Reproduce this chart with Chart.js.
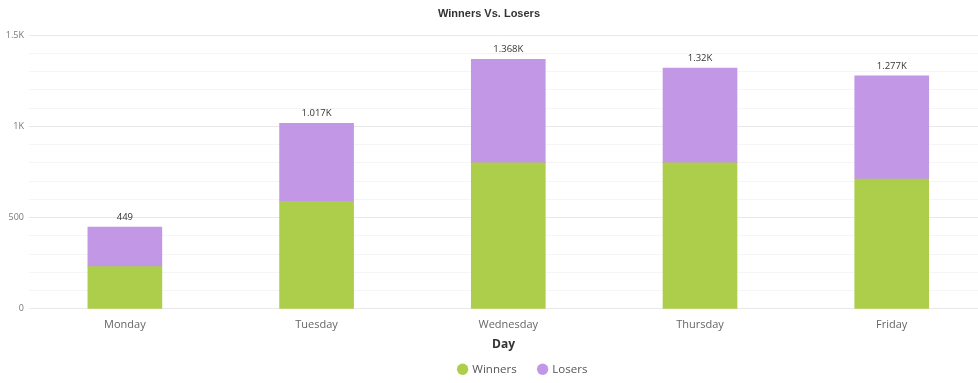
<!DOCTYPE html>
<html>
<head>
<meta charset="utf-8">
<script src="https://cdn.jsdelivr.net/npm/chart.js@4/dist/chart.umd.min.js"></script>
<style>
html,body{margin:0;padding:0;background:#fff;overflow:hidden;}
#wrap{width:978px;height:383px;position:relative;}
</style>
</head>
<body>
<div id="wrap"><canvas id="c"></canvas></div>
<script>
const days = ["Monday", "Tuesday", "Wednesday", "Thursday", "Friday"];
const winners = [232, 590, 800, 800, 712];
const losers = [217, 427, 568, 520, 565];
const yTickLabels = {0: "0", 500: "500", 1000: "1K", 1500: "1.5K"};

function fmtTotal(v) {
  if (v >= 1000) return (Math.round(v) / 1000) + "K";
  return String(Math.round(v));
}

const totalsPlugin = {
  id: "totals",
  afterDatasetsDraw(chart) {
    const ctx = chart.ctx;
    const meta = chart.getDatasetMeta(1);
    ctx.save();
    ctx.font = "9.5px 'Open Sans'";
    ctx.fillStyle = "#333";
    ctx.textAlign = "center";
    ctx.textBaseline = "bottom";
    meta.data.forEach((bar, i) => {
      const total = winners[i] + losers[i];
      ctx.fillText(fmtTotal(total), bar.x, bar.y - 5);
    });
    ctx.restore();
  }
};

const legendShift = {
  id: "legendShift",
  afterLayout(chart) {
    const lg = chart.legend;
    if (!lg) return;
    const dx = 34, dy = -12;
    lg.left += dx; lg.right += dx;
    lg.top += dy; lg.bottom += dy;
    if (lg.legendHitBoxes) lg.legendHitBoxes.forEach(b => { b.left += dx; b.top += dy; });
  }
};

new Chart(document.getElementById("c"), {
  type: "bar",
  data: {
    datasets: [
      { label: "Winners", data: winners.map((v, i) => ({x: i, y: v})), backgroundColor: "#ADCE4B", borderWidth: 0, barThickness: 74 },
      { label: "Losers", data: losers.map((v, i) => ({x: i, y: v})), backgroundColor: "#C297E6", borderWidth: 0, barThickness: 74 }
    ]
  },
  options: {
    responsive: true,
    maintainAspectRatio: false,
    animation: false,
    layout: { padding: { left: 0, right: 0, top: 0, bottom: -14 } },
    plugins: {
      tooltip: { enabled: false },
      title: {
        display: true,
        text: "Winners Vs. Losers",
        color: "#333",
        font: { family: "'Liberation Sans'", size: 11, weight: "bold" },
        padding: { top: 7, bottom: 15 }
      },
      legend: {
        position: "bottom",
        labels: {
          usePointStyle: true,
          pointStyle: "circle",
          boxWidth: 8,
          boxHeight: 8,
          padding: 22,
          color: "#555",
          font: { family: "'Open Sans'", size: 11.5 }
        }
      }
    },
    scales: {
      x: {
        type: "linear",
        stacked: true,
        offset: false,
        min: -0.5,
        max: 4.45,
        border: { display: false },
        grid: { display: false },
        ticks: {
          stepSize: 1,
          includeBounds: false,
          autoSkip: false,
          maxRotation: 0,
          color: "#666",
          font: { family: "'Open Sans'", size: 11 },
          padding: 1,
          callback: (v) => (Number.isInteger(v) && days[v] !== undefined) ? days[v] : ""
        },
        title: {
          display: true,
          text: "Day",
          color: "#333",
          font: { family: "'Open Sans'", size: 12, weight: "bold" },
          padding: { top: 5, bottom: 2 }
        }
      },
      y: {
        stacked: true,
        min: 0,
        max: 1500,
        border: { display: false },
        afterFit: (scale) => { scale.width = 29; },
        grid: {
          drawTicks: false,
          color: (ctx) => (ctx.tick && ctx.tick.value % 500 === 0) ? "#e8e8e8" : "#f5f5f5",
          lineWidth: 1
        },
        ticks: {
          stepSize: 100,
          autoSkip: false,
          padding: 5,
          color: "#777",
          font: { family: "'Open Sans'", size: 9 },
          callback: (v) => yTickLabels[v] !== undefined ? yTickLabels[v] : ""
        }
      }
    }
  },
  plugins: [totalsPlugin, legendShift]
});
</script>
</body>
</html>
